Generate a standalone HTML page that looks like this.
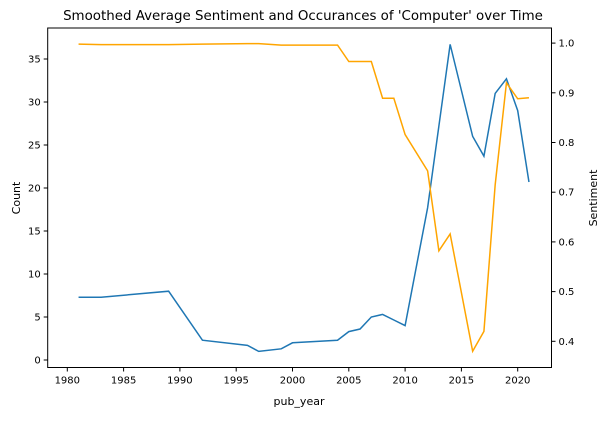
<!DOCTYPE html>
<html><head><meta charset="utf-8"><style>
body{margin:0;background:#fff;font-family:"Liberation Sans","DejaVu Sans",sans-serif}
svg text{font-family:"DejaVu Sans","Liberation Sans",sans-serif}
</style></head><body>
<svg id="chart" width="610" height="418" xmlns="http://www.w3.org/2000/svg"></svg>
<script>
const years=[1981,1983,1989,1992,1996,1997,1999,2000,2004,2005,2006,2007,2008,2009,2010,2012,2013,2014,2016,2017,2018,2019,2020,2021];
const counts=[7.3,7.3,8.0,2.3,1.7,1.0,1.3,2.0,2.3,3.3,3.6,5.0,5.3,4.65,4.0,17.7,27.2,36.7,26.0,23.7,31.0,32.7,29.0,20.7];
const sentiment=[0.998,0.997,0.997,0.998,0.999,0.999,0.996,0.996,0.996,0.963,0.963,0.963,0.889,0.889,0.816,0.743,0.582,0.616,0.38,0.42,0.715,0.92,0.888,0.89];
const xTicks=[1980,1985,1990,1995,2000,2005,2010,2015,2020];
const yTicks=[0,5,10,15,20,25,30,35];
const y2Ticks=[0.4,0.5,0.6,0.7,0.8,0.9,1.0];
const NS="http://www.w3.org/2000/svg",svg=document.getElementById('chart');
const L=47.7,R=551.5,T=28,B=367.5;
const xs=v=>67.3+(v-1980)*11.26;
const ys=v=>360-v*8.6;
const y2=v=>341.3-(v-0.4)*497;
function el(t,a,txt){const e=document.createElementNS(NS,t);for(const k in a)e.setAttribute(k,a[k]);if(txt!=null)e.textContent=txt;svg.appendChild(e);return e;}
let e=el('text',{x:303,y:20,'text-anchor':'middle','font-size':13.4},"Smoothed Average Sentiment and Occurances of 'Computer' over Time");

xTicks.forEach(v=>{const x=xs(v);el('line',{x1:x,x2:x,y1:B,y2:B+4,stroke:'#000'});
 const t=el('text',{x:x,y:B+16,'text-anchor':'middle','font-size':10},v);
 });
yTicks.forEach(v=>{const y=ys(v);el('line',{x1:L-4,x2:L,y1:y,y2:y,stroke:'#000'});
 const t=el('text',{x:L-7,y:y+3.5,'text-anchor':'end','font-size':10},v);
 });
y2Ticks.forEach(v=>{const y=y2(v);el('line',{x1:R,x2:R+4,y1:y,y2:y,stroke:'#000'});
 const t=el('text',{x:R+7,y:y+3.5,'font-size':10},v.toFixed(1));
 });
e=el('text',{x:299,y:405,'text-anchor':'middle','font-size':11},'pub_year');

e=el('text',{x:0,y:0,'text-anchor':'middle','font-size':11,transform:'translate(20,198) rotate(-90)'},'Count');

e=el('text',{x:0,y:0,'text-anchor':'middle','font-size':11,transform:'translate(597,198) rotate(-90)'},'Sentiment');

e=el('polyline',{points:years.map((y,i)=>xs(y)+','+ys(counts[i])).join(' '),fill:'none',stroke:'#1f77b4','stroke-width':1.5});

e=el('polyline',{points:years.map((y,i)=>xs(y)+','+y2(sentiment[i])).join(' '),fill:'none',stroke:'#ffa500','stroke-width':1.5});

e=el('rect',{x:L,y:T,width:R-L,height:B-T,fill:'none',stroke:'#000','stroke-width':1});

</script>
</body></html>
